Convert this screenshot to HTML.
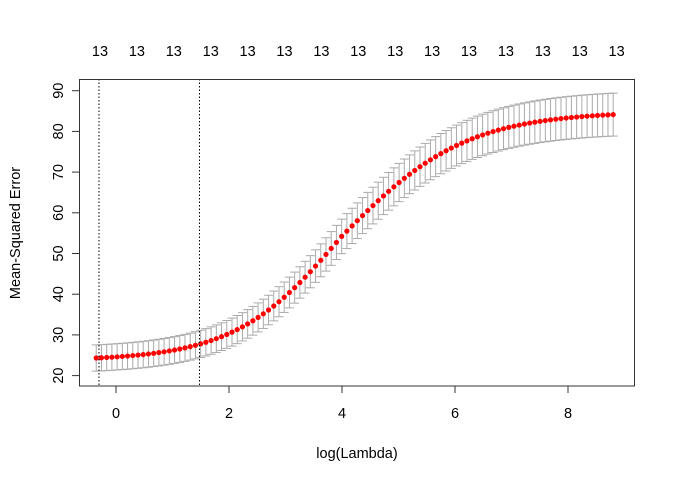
<!DOCTYPE html>
<html><head><meta charset="utf-8"><style>
html,body{margin:0;padding:0;background:#fff;}
svg{display:block;font-family:"Liberation Sans",Arial,sans-serif;}
</style></head><body>
<svg id="s" width="676" height="482" xmlns="http://www.w3.org/2000/svg">
<rect x="0" y="0" width="676" height="482" fill="#fff"/>
<g id="bars"></g>
<g id="pts"></g>
<line x1="99" y1="79" x2="99" y2="386" stroke="#000" stroke-dasharray="1.5,2"/>
<line x1="199.5" y1="79" x2="199.5" y2="386" stroke="#000" stroke-dasharray="1.5,2"/>
<rect x="79.5" y="79.5" width="555" height="306.5" fill="none" stroke="#333" stroke-width="1"/>
<g stroke="#333">
<line x1="116" y1="386" x2="116" y2="393"/><line x1="229" y1="386" x2="229" y2="393"/>
<line x1="342" y1="386" x2="342" y2="393"/><line x1="455" y1="386" x2="455" y2="393"/>
<line x1="568" y1="386" x2="568" y2="393"/>
<line x1="72" y1="90.7" x2="79" y2="90.7"/><line x1="72" y1="131.4" x2="79" y2="131.4"/>
<line x1="72" y1="172.1" x2="79" y2="172.1"/><line x1="72" y1="212.8" x2="79" y2="212.8"/>
<line x1="72" y1="253.5" x2="79" y2="253.5"/><line x1="72" y1="294.2" x2="79" y2="294.2"/>
<line x1="72" y1="334.9" x2="79" y2="334.9"/><line x1="72" y1="375.6" x2="79" y2="375.6"/>
</g>
<g font-size="14.5" text-anchor="middle" fill="#000">
<text x="116" y="418">0</text><text x="229" y="418">2</text><text x="342" y="418">4</text>
<text x="455" y="418">6</text><text x="568" y="418">8</text>
<text x="357" y="458">log(Lambda)</text>
<g id="top"></g>
</g>
<g font-size="14.5" text-anchor="middle" fill="#000">
<text transform="translate(63,90.7) rotate(-90)">90</text>
<text transform="translate(63,131.4) rotate(-90)">80</text>
<text transform="translate(63,172.1) rotate(-90)">70</text>
<text transform="translate(63,212.8) rotate(-90)">60</text>
<text transform="translate(63,253.5) rotate(-90)">50</text>
<text transform="translate(63,294.2) rotate(-90)">40</text>
<text transform="translate(63,334.9) rotate(-90)">30</text>
<text transform="translate(63,375.6) rotate(-90)">20</text>
<text transform="translate(20,233) rotate(-90)">Mean-Squared Error</text>
</g>
</svg>
<script>
var NS="http://www.w3.org/2000/svg";
function el(p,t,a,txt){var e=document.createElementNS(NS,t);for(var k in a)e.setAttribute(k,a[k]);if(txt)e.textContent=txt;document.getElementById(p).appendChild(e);}
function X(v){return 116+56.5*v;}
function Y(v){return 90.7+(90-v)*4.07;}
for(var i=0;i<100;i++){
 var l=-0.35+i*(8.8+0.35)/99;
 var w=l<4.0?0.95:1.1;
 var s=1/(1+Math.exp(-(l-4.0)/w));
 var m=23.7+61.2*s, h=3.2+2.1*s;
 var x=X(l),y1=Y(m+h),y2=Y(m-h);
 el("bars","line",{x1:x,x2:x,y1:y1,y2:y2,stroke:"#aaa","stroke-width":1});
 el("bars","line",{x1:x-4.5,x2:x+4.5,y1:y1,y2:y1,stroke:"#aaa","stroke-width":1});
 el("bars","line",{x1:x-4.5,x2:x+4.5,y1:y2,y2:y2,stroke:"#aaa","stroke-width":1});
 el("pts","circle",{cx:x,cy:Y(m),r:2.6,fill:"#f00"});
}
for(var j=0;j<15;j++){el("top","text",{x:100+j*36.9,y:56},"13");}
</script>
</body></html>
